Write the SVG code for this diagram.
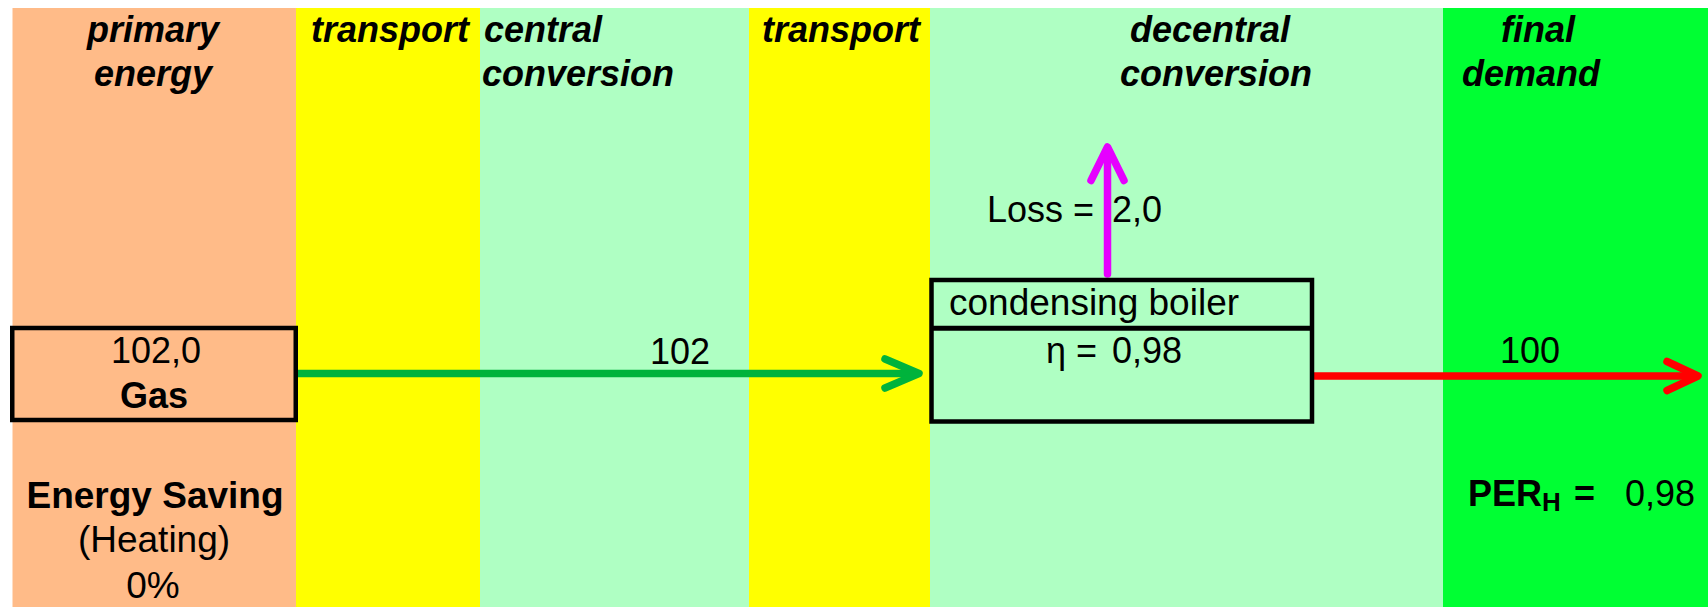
<svg xmlns="http://www.w3.org/2000/svg" width="1708" height="607" viewBox="0 0 1708 607">
<style>
text{font-family:"Liberation Sans",Arial,sans-serif;font-size:36px;fill:#000}
.hd{font-weight:bold;font-style:italic}
.b{font-weight:bold}
.mid{text-anchor:middle}
.lg{font-size:37px}
.box{stroke:#000;stroke-width:4.5}
.ln{fill:none;stroke-width:7.5;stroke-linecap:round;stroke-linejoin:round}
.g{stroke:#00b33c}.r{stroke:#ff0000}.m{stroke:#e600ff}
</style>
<rect width="1708" height="607" fill="#fff"/>
<g id="columns">
<rect x="12.5" y="8" width="283.5" height="599" fill="#ffbb88"/>
<rect x="296" y="8" width="184" height="599" fill="#ffff00"/>
<rect x="480" y="8" width="269" height="599" fill="#afffc3"/>
<rect x="749" y="8" width="181" height="599" fill="#ffff00"/>
<rect x="930" y="8" width="513" height="599" fill="#afffc3"/>
<rect x="1443" y="8" width="265" height="599" fill="#00ff33"/>
</g>
<g id="headers" class="hd">
<text class="hd mid" x="153" y="42">primary</text>
<text class="hd mid" x="153" y="86">energy</text>
<text class="hd" x="311" y="42">transport</text>
<text class="hd" x="484" y="42">central</text>
<text class="hd" x="482" y="86">conversion</text>
<text class="hd" x="762" y="42">transport</text>
<text class="hd" x="1130" y="42">decentral</text>
<text class="hd" x="1120" y="86">conversion</text>
<text class="hd" x="1501" y="42">final</text>
<text class="hd" x="1462" y="86">demand</text>
</g>
<g id="connectors">
<line class="ln g" x1="296" y1="373.5" x2="917" y2="373.5"/>
<polyline class="ln g" points="885,359 919,373.5 885,388"/>
<line class="ln r" x1="1314" y1="376" x2="1696" y2="376"/>
<polyline class="ln r" points="1667,361.5 1698,376 1667,390.5"/>
<line class="ln m" x1="1107.5" y1="274" x2="1107.5" y2="149"/>
<polyline class="ln m" points="1091,180.5 1107.5,147 1124,180.5"/>
<text class="mid" x="680" y="364">102</text>
<text class="mid" x="1530" y="363">100</text>
<text x="987" y="222">Loss =<tspan x="1112">2,0</tspan></text>
</g>
<g id="gas">
<rect class="box" x="12.25" y="328" width="283.5" height="92" fill="#ffbb88"/>
<text class="mid" x="156" y="363">102,0</text>
<text class="b mid" x="154" y="408">Gas</text>
</g>
<g id="boiler">
<rect class="box" x="931.5" y="280" width="380.5" height="141.5" fill="#afffc3" stroke-width="5"/>
<line x1="931.5" y1="328.3" x2="1312" y2="328.3" stroke="#000" stroke-width="5"/>
<text class="lg" x="949" y="315">condensing boiler</text>
<text x="1046" y="363">η =<tspan x="1112">0,98</tspan></text>
</g>
<g id="saving">
<text class="b mid lg" x="155" y="508">Energy Saving</text>
<text class="mid lg" x="154" y="552">(Heating)</text>
<text class="mid lg" x="153" y="598">0%</text>
</g>
<g id="per">
<text class="b" x="1468" y="506">PER<tspan font-size="26" dy="5">H</tspan><tspan dy="-5" x="1574">=</tspan></text>
<text x="1625" y="506">0,98</text>
</g>
</svg>
